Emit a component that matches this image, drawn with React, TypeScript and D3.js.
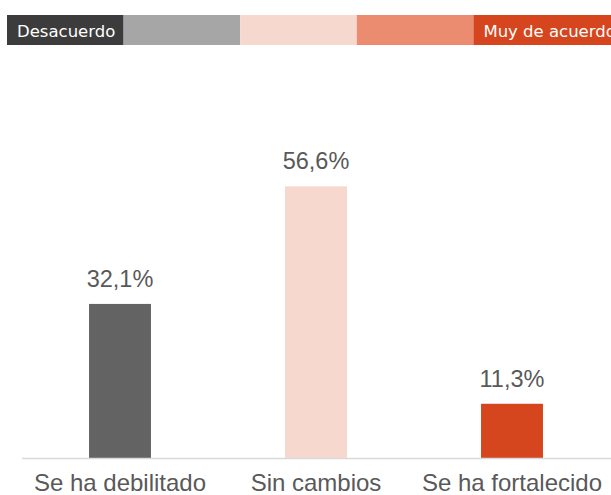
import React from "react";
import * as d3 from "d3";

const categories = ["Se ha debilitado", "Sin cambios", "Se ha fortalecido"];
const values = [32.1, 56.6, 11.3];
const barColors = ["#636363", "#f7d8cf", "#d5461e"];
const legendColors = ["#3c3c3c", "#a6a6a6", "#f7d8cf", "#eb8c70", "#d5461e"];
const legendLabels = ["Desacuerdo", "", "", "", "Muy de acuerdo"];

const W = 611;
const H = 495;

export default function App() {
  const x = d3
    .scaleBand<string>()
    .domain(categories)
    .range([22, 610])
    .paddingInner(0.684)
    .paddingOuter(0.342);
  const y = d3.scaleLinear().domain([0, 60]).range([458, 170]);

  const lx = d3
    .scaleBand<number>()
    .domain(d3.range(legendColors.length))
    .range([7, 590]);

  const fmt = (v: number) => v.toFixed(1).replace(".", ",") + "%";

  return (
    <svg
      width={W}
      height={H}
      style={{ position: "absolute", left: 0, top: 0, background: "#fff" }}
      fontFamily="'Liberation Sans', Arial, sans-serif"
    >
      <g>
        {legendColors.map((c, i) => {
          const x0 = lx(i)!;
          const w = i === legendColors.length - 1 ? W + 40 - x0 : lx.bandwidth();
          return (
            <g key={i}>
              <rect x={x0} y={15} width={w} height={30} fill={c} />
              {legendLabels[i] && (
                <text
                  x={x0 + 10}
                  y={37}
                  fill="#fff"
                  fontSize={16.5}
                  fontFamily="'DejaVu Sans', sans-serif"
                >
                  {legendLabels[i]}
                </text>
              )}
            </g>
          );
        })}
      </g>
      <g>
        {categories.map((c, i) => (
          <g key={c}>
            <rect
              x={x(c)!}
              y={y(values[i])}
              width={x.bandwidth()}
              height={y(0) - y(values[i])}
              fill={barColors[i]}
            />
            <text
              x={x(c)! + x.bandwidth() / 2}
              y={y(values[i]) - 17}
              textAnchor="middle"
              fill="#595959"
              fontSize={23.5}
            >
              {fmt(values[i])}
            </text>
            <text
              x={x(c)! + x.bandwidth() / 2}
              y={491}
              textAnchor="middle"
              fill="#595959"
              fontSize={24}
            >
              {c}
            </text>
          </g>
        ))}
      </g>
      <line x1={22} x2={611} y1={y(0) + 0.5} y2={y(0) + 0.5} stroke="#d9d9d9" strokeWidth={1.5} />
    </svg>
  );
}
